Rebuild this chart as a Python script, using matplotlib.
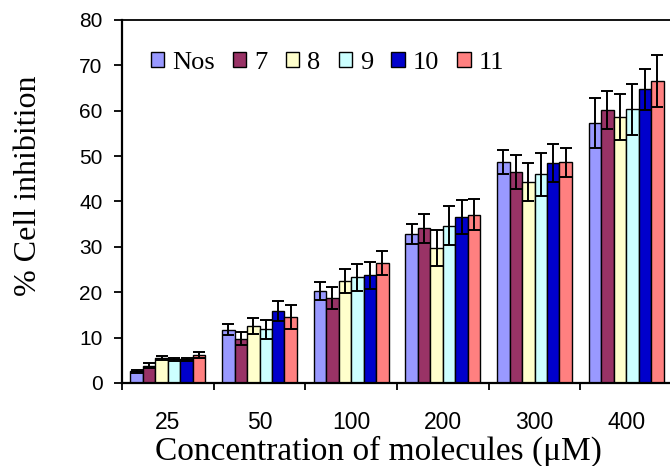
import matplotlib.pyplot as plt
import numpy as np

# concentrations (uM) and compounds
conc = ['25', '50', '100', '200', '300', '400']
names = ['Nos', '7', '8', '9', '10', '11']
colors = ['#9999FF', '#993366', '#FFFFCC', '#CCFFFF', '#0000CC', '#FF8080']

# mean % inhibition, one list per compound
nos = [2.6, 11.7, 20.3, 32.8, 48.7, 57.3]
c7 = [3.8, 9.8, 18.7, 34.1, 46.5, 60.2]
c8 = [5.5, 12.6, 22.5, 29.8, 44.2, 58.6]
c9 = [5.2, 11.8, 23.3, 34.7, 46.0, 60.3]
c10 = [5.2, 15.9, 23.7, 36.6, 48.5, 64.7]
c11 = [6.2, 14.6, 26.5, 37.1, 48.7, 66.6]

# standard deviations
nos_sd = [0.3, 1.2, 2.0, 2.2, 2.7, 5.6]
c7_sd = [0.5, 1.5, 2.4, 3.2, 3.7, 4.2]
c8_sd = [0.5, 1.8, 2.6, 4.0, 4.2, 5.0]
c9_sd = [0.4, 2.0, 3.0, 4.2, 4.7, 5.7]
c10_sd = [0.4, 2.2, 3.0, 3.8, 4.2, 4.5]
c11_sd = [0.6, 2.6, 2.6, 3.4, 3.2, 5.7]

means = [nos, c7, c8, c9, c10, c11]
sds = [nos_sd, c7_sd, c8_sd, c9_sd, c10_sd, c11_sd]

W, H = 670, 466
fig = plt.figure(figsize=(W / 100, H / 100), dpi=100)
ax = fig.add_axes([122 / W, 83 / H, 550 / W, 363 / H])

x = np.arange(len(conc))
w = 0.136
for i in range(len(names)):
    pos = x + (i - 2.5) * w
    ax.bar(pos, means[i], w, color=colors[i], edgecolor='black', linewidth=1.0,
           label=names[i], zorder=2)
    ax.errorbar(pos, means[i], yerr=sds[i], fmt='none', ecolor='black',
                elinewidth=1.4, capsize=4, capthick=1.4, zorder=3)

ax.set_xlim(-0.5, 5.5)
ax.set_ylim(0, 80)
ax.set_yticks(np.arange(0, 81, 10))
ax.set_xticks(x)
ax.set_xticklabels(conc)
ax.set_xticks(np.arange(-0.5, 5.6, 1), minor=True)
ax.tick_params(axis='x', which='major', length=0, pad=20)
ax.tick_params(axis='x', which='minor', length=5, width=1.3, direction='out')
ax.tick_params(axis='y', length=6, width=1.3, direction='out', pad=8)
for lab in ax.get_xticklabels():
    lab.set_fontfamily('Liberation Sans')
    lab.set_fontsize(16.5)
for lab in ax.get_yticklabels():
    lab.set_fontfamily('Liberation Sans')
    lab.set_fontsize(15)

ax.spines['right'].set_visible(False)
ax.spines['top'].set_linewidth(1.3)
ax.spines['left'].set_linewidth(1.6)
ax.spines['bottom'].set_linewidth(1.6)

# axis titles placed in figure pixels
fig.text(29 / W, (H - 186) / H, '% Cell inhibition', family='Liberation Serif',
         fontsize=23, rotation=90, ha='center', va='center')
fig.text(378 / W, 6 / H, 'Concentration of molecules (\u03bcM)',
         family='Liberation Serif', fontsize=24, ha='center', va='baseline')

ax.legend(loc='center left', bbox_to_anchor=(0.052, 0.8815), ncol=6, frameon=False,
          prop={'family': 'Liberation Serif', 'size': 19}, handlelength=0.5,
          handleheight=0.5, handletextpad=0.32, columnspacing=0.68,
          borderaxespad=0, borderpad=0)

fig.savefig('out.png', dpi=100)
